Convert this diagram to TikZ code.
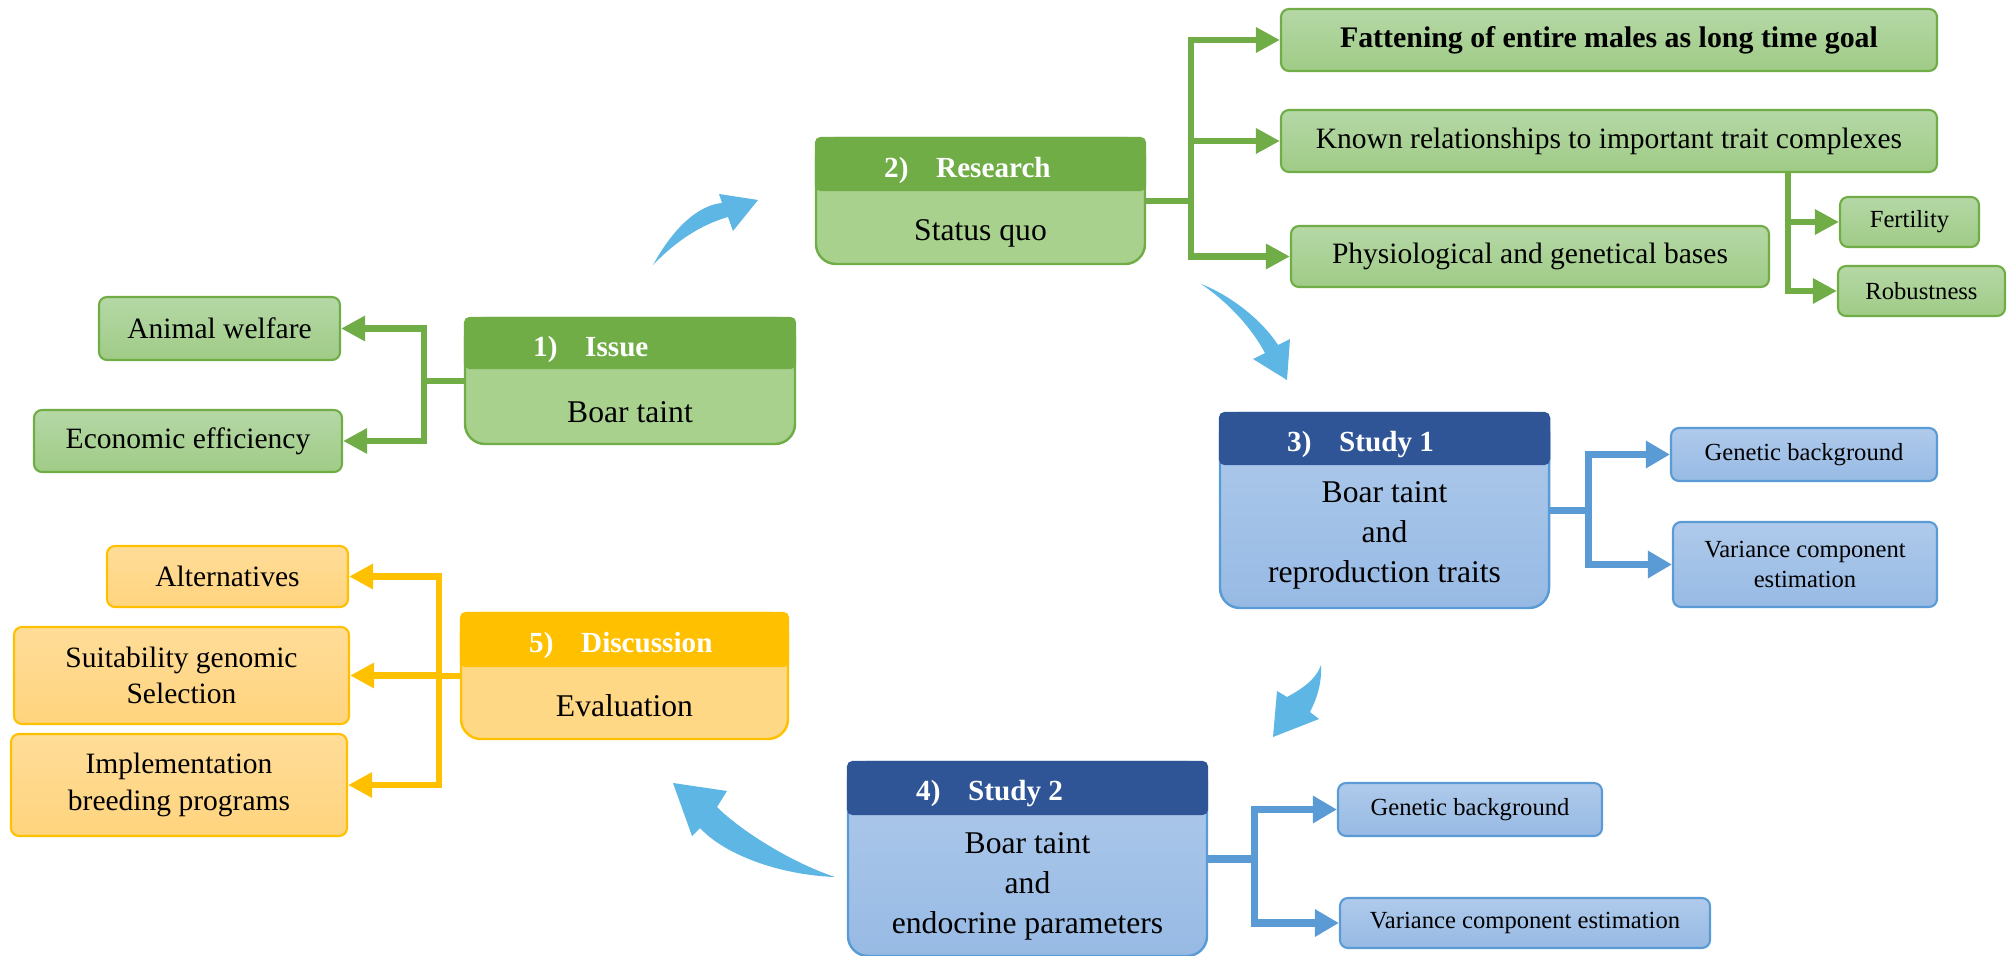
\documentclass[tikz,border=0pt]{standalone}
\usepackage{fontspec}
\setmainfont{Liberation Serif}
\usepackage{tikz}
\usetikzlibrary{positioning,calc,arrows.meta}
\definecolor{GreenDark}{HTML}{70AD47}
\definecolor{GreenBody}{HTML}{A9D18E}
\definecolor{GreenTop}{HTML}{B5D8A6}
\definecolor{GreenBot}{HTML}{9FCB86}
\definecolor{BlueDark}{HTML}{2F5597}
\definecolor{BlueLine}{HTML}{5B9BD5}
\definecolor{BlueTop}{HTML}{AFCAEB}
\definecolor{BlueBot}{HTML}{97BAE4}
\definecolor{GoldDark}{HTML}{FFC000}
\definecolor{GoldBody}{HTML}{FFD885}
\definecolor{GoldTop}{HTML}{FFDC98}
\definecolor{GoldBot}{HTML}{FFD47E}
\definecolor{FlowBlue}{HTML}{5DB6E3}

\begin{document}
\begin{tikzpicture}[
		box/.style={draw, rounded corners=0.2cm, inner sep=0pt, line width=0.7pt},
		head/.style={draw, rounded corners=0.05cm, inner sep=0pt, anchor=north, line width=0.7pt},
		htxt/.style={anchor=west, text=white, yshift=-0.06cm, font=\fontsize{8.3}{10}\selectfont\bfseries},
		btxt/.style={align=center, font=\fontsize{9}{11.3}\selectfont},
		leaf/.style={draw, rounded corners=0.08cm, inner sep=0pt, align=center, line width=0.6pt, font=\fontsize{8.4}{10.4}\selectfont},
		small/.style={font=\fontsize{7}{8.6}\selectfont},
		gleaf/.style={leaf, draw=GreenDark, top color=GreenTop, bottom color=GreenBot},
		bleaf/.style={leaf, small, draw=BlueLine, top color=BlueTop, bottom color=BlueBot},
		yleaf/.style={leaf, draw=GoldDark, top color=GoldTop, bottom color=GoldBot},
		garrow/.style={draw=GreenDark, line width=1.8pt, -{Triangle[length=0.24cm,width=0.24cm]}},
		barrow/.style={draw=BlueLine, line width=2pt, -{Triangle[length=0.24cm,width=0.26cm]}},
		yarrow/.style={draw=GoldDark, line width=1.8pt, -{Triangle[length=0.24cm,width=0.24cm]}},
		flow/.style={fill=FlowBlue}
		]
		\useasboundingbox (0,0) rectangle (20.15,-9.56);
		
		% ===== main boxes =====
		\node[box, draw=GreenDark, fill=GreenBody, minimum width=3.30cm, minimum height=1.26cm] (issue) at (6.30,-3.81) {};
		\node[head, draw=GreenDark, fill=GreenDark, minimum width=3.30cm, minimum height=0.50cm] (issueh) at (issue.north) {};
		\node[htxt] at ([xshift=0.57cm]issueh.west) {1)\hspace{0.95em}Issue};
		\node[btxt] at ($(issueh.south)!0.5!(issue.south)+(0,-0.05)$) {Boar taint};
		
		\node[box, draw=GreenDark, fill=GreenBody, minimum width=3.29cm, minimum height=1.26cm] (research) at (9.805,-2.01) {};
		\node[head, draw=GreenDark, fill=GreenDark, minimum width=3.29cm, minimum height=0.52cm] (researchh) at (research.north) {};
		\node[htxt] at ([xshift=0.57cm]researchh.west) {2)\hspace{0.95em}Research};
		\node[btxt] at ($(researchh.south)!0.5!(research.south)+(0,-0.05)$) {Status quo};
		
		\node[box, draw=BlueLine, top color=BlueTop, bottom color=BlueBot, minimum width=3.29cm, minimum height=1.95cm] (study1) at (13.845,-5.105) {};
		\node[head, draw=BlueDark, fill=BlueDark, minimum width=3.29cm, minimum height=0.51cm] (study1h) at (study1.north) {};
		\node[htxt] at ([xshift=0.56cm]study1h.west) {3)\hspace{0.95em}Study 1};
		\node[btxt] at ($(study1h.south)!0.5!(study1.south)+(0,0.02)$) {Boar taint\\and\\reproduction traits};
		
		\node[box, draw=BlueLine, top color=BlueTop, bottom color=BlueBot, minimum width=3.59cm, minimum height=1.94cm] (study2) at (10.275,-8.59) {};
		\node[head, draw=BlueDark, fill=BlueDark, minimum width=3.59cm, minimum height=0.52cm] (study2h) at (study2.north) {};
		\node[htxt] at ([xshift=0.57cm]study2h.west) {4)\hspace{0.95em}Study 2};
		\node[btxt] at ($(study2h.south)!0.5!(study2.south)$) {Boar taint\\and\\endocrine parameters};
		
		\node[box, draw=GoldDark, fill=GoldBody, minimum width=3.27cm, minimum height=1.26cm] (disc) at (6.245,-6.76) {};
		\node[head, draw=GoldDark, fill=GoldDark, minimum width=3.27cm, minimum height=0.53cm] (disch) at (disc.north) {};
		\node[htxt] at ([xshift=0.57cm]disch.west) {5)\hspace{0.95em}Discussion};
		\node[btxt] at ($(disch.south)!0.5!(disc.south)+(0,-0.02)$) {Evaluation};
		
		% ===== leaves =====
		\node[gleaf, minimum width=2.41cm, minimum height=0.63cm] (animal) at (2.195,-3.285) {Animal welfare};
		\node[gleaf, minimum width=3.08cm, minimum height=0.62cm] (econ) at (1.88,-4.41) {Economic efficiency};
		
		\node[gleaf, minimum width=6.56cm, minimum height=0.62cm, font=\fontsize{8.5}{10}\selectfont\bfseries] (fatten) at (16.09,-0.40) {Fattening of entire males as long time goal};
		\node[gleaf, minimum width=6.56cm, minimum height=0.62cm] (known) at (16.09,-1.41) {Known relationships to important trait complexes};
		\node[gleaf, minimum width=4.78cm, minimum height=0.61cm] (physio) at (15.30,-2.565) {Physiological and genetical bases};
		\node[gleaf, small, minimum width=1.39cm, minimum height=0.50cm] (fert) at (19.095,-2.22) {Fertility};
		\node[gleaf, small, minimum width=1.67cm, minimum height=0.50cm] (robust) at (19.215,-2.91) {Robustness};
		
		\node[bleaf, minimum width=2.66cm, minimum height=0.53cm] (gen1) at (18.04,-4.545) {Genetic background};
		\node[bleaf, minimum width=2.64cm, minimum height=0.85cm] (var1) at (18.05,-5.645) {Variance component\\estimation};
		\node[bleaf, minimum width=2.64cm, minimum height=0.53cm] (gen2) at (14.70,-8.095) {Genetic background};
		\node[bleaf, minimum width=3.70cm, minimum height=0.50cm] (var2) at (15.25,-9.23) {Variance component estimation};
		
		\node[yleaf, minimum width=2.41cm, minimum height=0.61cm] (alt) at (2.275,-5.765) {Alternatives};
		\node[yleaf, minimum width=3.35cm, minimum height=0.97cm] (suit) at (1.815,-6.755) {Suitability genomic\\Selection};
		\node[yleaf, minimum width=3.36cm, minimum height=1.02cm] (impl) at (1.79,-7.85) {Implementation\\breeding programs};
		
		% ===== branches =====
		\draw[garrow] (issue.west) -- ++(-0.40,0) |- (animal.east);
		\draw[garrow] (issue.west) -- ++(-0.40,0) |- (econ.east);
		
		\draw[garrow] (research.east) -- ++(0.45,0) |- (fatten.west);
		\draw[garrow] (research.east) -- ++(0.45,0) |- (known.west);
		\draw[garrow] (research.east) -- ++(0.45,0) |- (physio.west);
		\draw[garrow] ([xshift=-0.51cm]fert.west |- known.south) |- (fert.west);
		\draw[garrow] ([xshift=-0.51cm]fert.west |- known.south) |- (robust.west);
		
		\draw[barrow] (study1.east) -- ++(0.38,0) |- (gen1.west);
		\draw[barrow] (study1.east) -- ++(0.38,0) |- (var1.west);
		\draw[barrow] (study2.east) -- ++(0.46,0) |- (gen2.west);
		\draw[barrow] (study2.east) -- ++(0.46,0) |- (var2.west);
		
		\draw[yarrow] (disc.west) -- ++(-0.21,0) |- (alt.east);
		\draw[yarrow] (disc.west) -- ++(-0.21,0) |- (suit.east);
		\draw[yarrow] (disc.west) -- ++(-0.21,0) |- (impl.east);
		
		% ===== curved flow arrows =====
		\fill[flow] (6.53,-2.65) .. controls (6.75,-2.25) and (7.00,-2.05) .. (7.22,-2.03) -- (7.19,-1.94) -- (7.58,-2.00) -- (7.33,-2.31) -- (7.28,-2.17) .. controls (7.00,-2.25) and (6.75,-2.42) .. cycle;
		\fill[flow] (12.01,-2.84) .. controls (12.30,-2.95) and (12.62,-3.20) .. (12.78,-3.45) -- (12.90,-3.39) -- (12.87,-3.80) -- (12.53,-3.59) -- (12.65,-3.53) .. controls (12.50,-3.25) and (12.25,-3.00) .. cycle;
		\fill[flow] (13.21,-6.65) .. controls (13.16,-6.80) and (13.00,-6.90) .. (12.87,-6.97) -- (12.77,-6.91) -- (12.73,-7.37) -- (13.19,-7.19) -- (13.10,-7.12) .. controls (13.16,-7.00) and (13.22,-6.85) .. cycle;
		\fill[flow] (8.35,-8.77) .. controls (7.90,-8.62) and (7.40,-8.30) .. (7.17,-8.07) -- (7.27,-7.91) -- (6.73,-7.83) -- (6.92,-8.36) -- (7.00,-8.28) .. controls (7.25,-8.55) and (7.80,-8.75) .. cycle;
		
	\end{tikzpicture}
\end{document}
